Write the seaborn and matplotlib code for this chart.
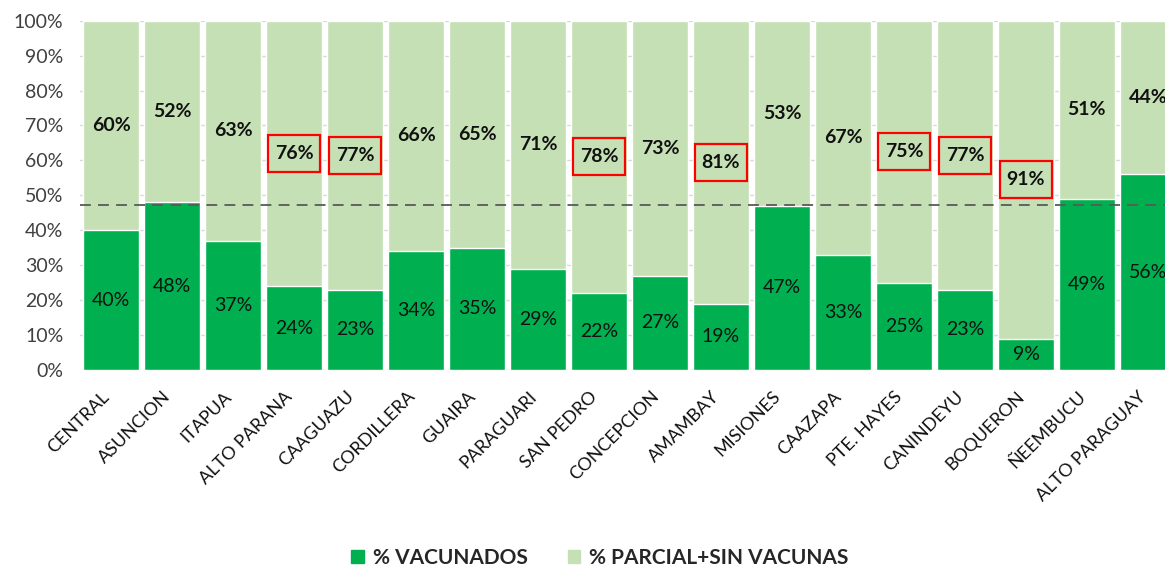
import matplotlib
matplotlib.use("Agg")
import matplotlib.pyplot as plt
import matplotlib.patches as mpatches
import matplotlib.transforms as mtransforms
import seaborn as sns
import pandas as pd

departamentos = ["CENTRAL", "ASUNCION", "ITAPUA", "ALTO PARANA", "CAAGUAZU", "CORDILLERA",
                 "GUAIRA", "PARAGUARI", "SAN PEDRO", "CONCEPCION", "AMAMBAY", "MISIONES",
                 "CAAZAPA", "PTE. HAYES", "CANINDEYU", "BOQUERON", "ÑEEMBUCU", "ALTO PARAGUAY"]
vacunados = [40, 48, 37, 24, 23, 34, 35, 29, 22, 27, 19, 47, 33, 25, 23, 9, 49, 56]
parcial_sin = [60, 52, 63, 76, 77, 66, 65, 71, 78, 73, 81, 53, 67, 75, 77, 91, 51, 44]
destacados = ["ALTO PARANA", "CAAGUAZU", "SAN PEDRO", "AMAMBAY", "PTE. HAYES",
              "CANINDEYU", "BOQUERON"]
promedio_pais = 47.3
yticks = list(range(0, 101, 10))

VERDE = "#00B050"
VERDE_CLARO = "#C5E0B4"

sns.set_theme(style="white")
plt.rcParams["font.family"] = ["Lato", "DejaVu Sans"]

df = pd.DataFrame({"dep": departamentos, "vac": vacunados, "par": parcial_sin})
df["total"] = df["vac"] + df["par"]

fig = plt.figure(figsize=(11.65, 5.7), dpi=100)
ax = fig.add_axes([80 / 1165, 1 - 370 / 570, 1 - 80 / 1165, (370 - 20.7) / 570])

sns.barplot(data=df, x="dep", y="total", color=VERDE_CLARO, saturation=1,
            width=0.92, ax=ax, zorder=2)
sns.barplot(data=df, x="dep", y="vac", color=VERDE, saturation=1,
            width=0.92, ax=ax, zorder=3)

# light horizontal grid behind bars
for t in yticks:
    ax.axhline(t, color="#D9D9D9", lw=1.0, zorder=1)

ax.axhline(promedio_pais, color="#595959", lw=1.3, ls=(0, (6, 4)), zorder=5)

for i, row in df.iterrows():
    ax.text(i, row["vac"] / 2, f"{row['vac']}%", ha="center", va="center",
            fontsize=14, color="#111111", zorder=6)
    y_top = row["vac"] + row["par"] / 2
    ax.text(i, y_top, f"{row['par']}%", ha="center", va="center",
            fontsize=14, fontweight="bold", color="#111111", zorder=6)
    if row["dep"] in destacados:
        # red frame around the highlighted labels
        ax.add_patch(mpatches.Rectangle((i - 0.425, y_top - 5.3), 0.85, 10.6,
                                        fill=False, ec="#FF0000", lw=1.6, zorder=6))

ax.set_ylim(0, 100)
ax.set_xlim(-0.51, 17.28)
ax.set_yticks(yticks)
ax.set_yticklabels([f"{t}%" for t in yticks], fontsize=14, color="#404040")
ax.set_xlabel("")
ax.set_ylabel("")
ax.tick_params(axis="y", length=0, pad=12)
ax.tick_params(axis="x", length=0)
ax.set_xticklabels([])

# rotated category names below each bar
lab_tr = mtransforms.offset_copy(ax.get_xaxis_transform(), fig=fig, x=-4, y=-24, units="dots")
for i, name in enumerate(departamentos):
    ax.text(i, 0, name, transform=lab_tr, rotation=45, ha="right", va="center",
            rotation_mode="anchor", fontsize=13, color="#111111")

for s in ax.spines.values():
    s.set_visible(False)

handles = [mpatches.Patch(color=VERDE, label="% VACUNADOS"),
           mpatches.Patch(color=VERDE_CLARO, label="% PARCIAL+SIN VACUNAS")]
leg = fig.legend(handles=handles, loc="center", bbox_to_anchor=(0.515, 1 - 558 / 570),
                 ncol=2, frameon=False, handlelength=0.6, handleheight=0.6,
                 handletextpad=0.45, columnspacing=1.9,
                 prop={"weight": "bold", "size": 15})

fig.savefig("out.png", dpi=100)
